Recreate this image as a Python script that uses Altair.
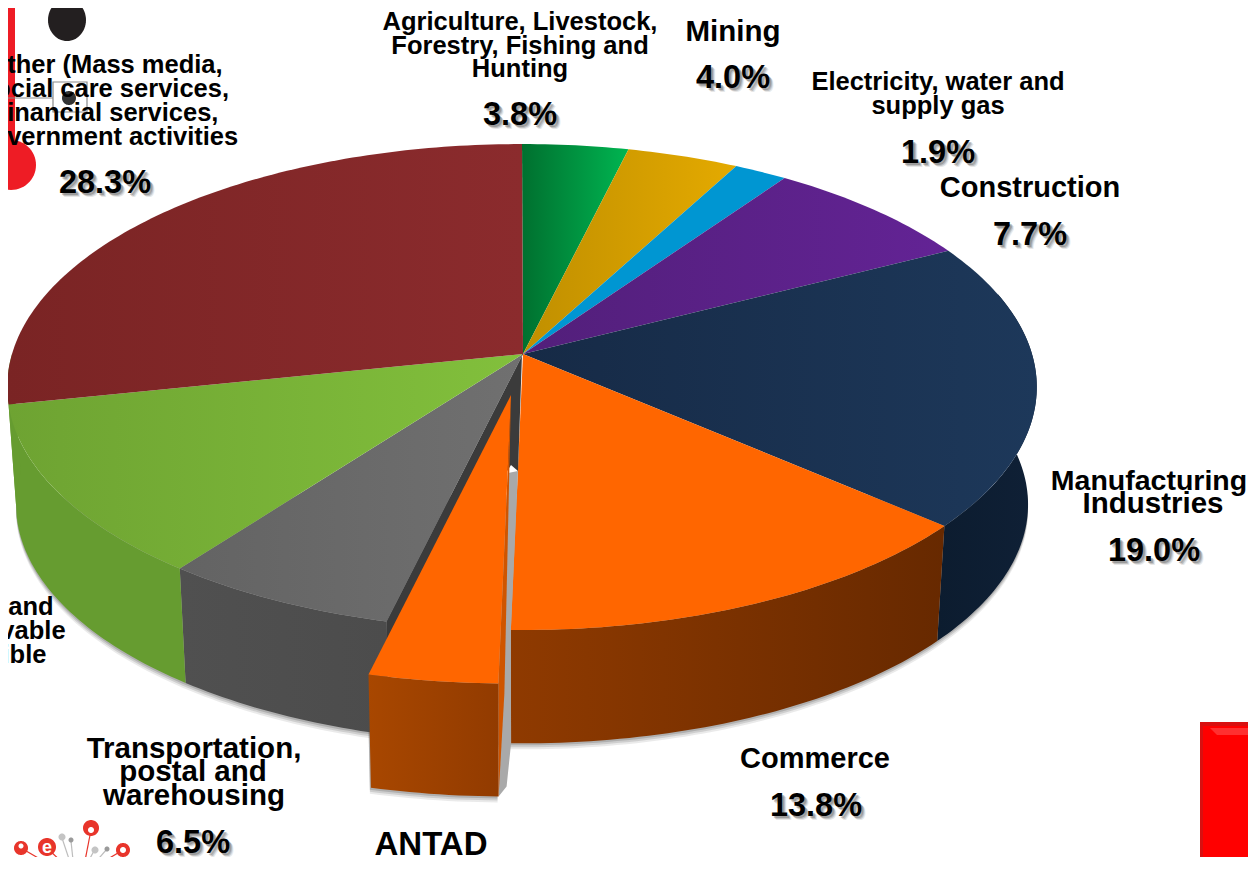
import math
import altair as alt

# ---- values ----
sectors = ["Agriculture", "Mining", "Electricity", "Construction", "Manufacturing",
           "Commerce", "ANTAD", "Transportation", "RealEstate", "Other"]
shares = [3.8, 4.0, 1.9, 7.7, 19.0, 13.9, 3.4, 6.5, 11.5, 28.3]

def grad(c0, c1, vertical=False):
    return alt.Gradient(gradient="linear",
                        stops=[alt.GradientStop(color=c0, offset=0), alt.GradientStop(color=c1, offset=1)],
                        x1=0, y1=0, x2=0 if vertical else 1, y2=1 if vertical else 0)

top_colors = [("#00702f", "#00b551"), ("#c08f00", "#e4aa00"), ("#0096d2", "#0096d2"),
              ("#521f7a", "#632395"), ("#162a46", "#1d385a"), ("#ff6600", "#ff6600"),
              ("#ff6600", "#ff6600"), ("#636363", "#707070"), ("#6ea332", "#82c03c"),
              ("#7a2424", "#8b2b2d")]
side_colors = {"Manufacturing": ("#0c1c2f", "#0f2036"), "Commerce": ("#8f3a00", "#672900"),
               "ANTAD": ("#a84700", "#923b00"), "Transportation": ("#505050", "#4c4c4c"),
               "RealEstate": ("#669c30", "#669c30"), "Other": ("#669c30", "#669c30")}

label_lines = [
    ("Agriculture, Livestock,", 520, 30, 25.5), ("Forestry, Fishing and", 520, 54, 25.5), ("Hunting", 520, 77, 25.5),
    ("Mining", 733, 41, 29.5),
    ("Electricity, water and", 938, 90, 25.5), ("supply gas", 938, 114, 25.5),
    ("Construction", 1030, 197, 29),
    ("Manufacturing", 1149, 490, 28.5), ("Industries", 1153, 513, 29.5),
    ("Commerce", 815, 768, 29),
    ("ANTAD", 431, 855, 33),
    ("Transportation,", 194, 758, 29.5), ("postal and", 193, 781, 29.5), ("warehousing", 194, 805, 29.5),
    ("Real estate and", -40, 615, 25.5), ("rental of movable", -40, 639, 25.5), ("and intangible", -40, 663, 25.5),
    ("assets", -40, 687, 25.5),
    ("Other (Mass media,", 105, 73, 25.5), ("social care services,", 105, 97, 25.5),
    ("Financial services,", 105, 121, 25.5), ("Government activities", 105, 145, 25.5),
]
percent_labels = [
    ("3.8%", 520, 125), ("4.0%", 733, 88), ("1.9%", 938, 163), ("7.7%", 1030, 245),
    ("19.0%", 1154, 561), ("13.8%", 816, 816), ("6.5%", 193, 853), ("11.5%", -43, 738), ("28.3%", 105, 193),
]

# ---- projected-disc geometry ----
CX, CY, DX, A, B, K = 523.0, 354.0, -1.0, 510.0, 238.5, 0.136
SIDE_SCALE, DEPTH = 0.983, 118.0

def rim(theta, ox=0.0, oy=0.0, s=1.0):
    t = math.radians(theta)
    w = 1 + K * math.cos(t)
    return (CX + DX + ox + s * A * math.sin(t) / w, CY + oy - s * B * math.cos(t) / w)

def rim_low(theta, ox=0.0, oy=0.0, s=1.0):
    x, y = rim(theta, ox, oy, s)
    return (CX + ox + (x - CX - ox) * SIDE_SCALE, CY + oy + (y - CY - oy) * SIDE_SCALE + DEPTH)

def arc_angles(a0, a1):
    n = max(2, int(abs(a1 - a0)) + 2)
    return [a0 + (a1 - a0) * i / (n - 1) for i in range(n)]

def wedge(a0, a1, ox=0.0, oy=0.0, s=1.0):
    return [(CX + ox, CY + oy)] + [rim(a, ox, oy, s) for a in arc_angles(a0, a1)]

def wall(a0, a1, ox=0.0, oy=0.0, s=1.0):
    ang = arc_angles(a0, a1)
    return [rim(a, ox, oy, s) for a in ang] + [rim_low(a, ox, oy, s) for a in reversed(ang)]

def ellipse(cx, cy, rx, ry):
    return [(cx + rx * math.cos(math.radians(i)), cy + ry * math.sin(math.radians(i))) for i in range(0, 360, 6)]

PROJ = alt.Projection(type="identity", scale=1, translate=[-8, -8])

def poly(points, fill, opacity=1.0, stroke=None, sw=0):
    ring = [[round(x, 2), round(y, 2)] for x, y in points]
    ring.append(ring[0])
    feature = {"type": "Feature", "properties": {}, "geometry": {"type": "Polygon", "coordinates": [ring]}}
    kw = dict(fill=fill, opacity=opacity)
    kw.update(dict(stroke=stroke, strokeWidth=sw) if stroke else dict(strokeWidth=0))
    return alt.Chart(alt.InlineData(values={"type": "FeatureCollection", "features": [feature]},
                                    format=alt.DataFormat(type="json", property="features"))
                     ).mark_geoshape(**kw).project(**PROJ.to_dict())

def path(points, color, width):
    vals = [{"lon": x, "lat": y, "o": i} for i, (x, y) in enumerate(points)]
    return alt.Chart(alt.Data(values=vals)).mark_line(color=color, strokeWidth=width).encode(
        longitude="lon:Q", latitude="lat:Q", order="o:Q").project(**PROJ.to_dict())

# slice angles from the values
edges = [0.0]
for v in shares:
    edges.append(edges[-1] + v * 3.6)
span = {n: (edges[i], edges[i + 1]) for i, n in enumerate(sectors)}
X_OX, X_OY, X_S = -12.0, 41.0, 1.045  # how far the ANTAD slice is pulled out

layers = []

# decorations cropped at the picture's edges
layers += [
    poly([(5, 0), (15, 0), (15, 150), (5, 150)], "#ee1c25"),
    poly(ellipse(11, 165, 25, 25), "#ee1c25"),
    poly(ellipse(67, 20, 19, 21), "#231f20"),
    poly(ellipse(69, 98, 7, 7), "#333333"),
    path([(0, 98), (53, 98), (53, 82), (87, 82), (87, 112), (53, 112), (53, 98)], "#8a8a8a", 1.2),
    poly([(1200, 722), (1256, 722), (1256, 869), (1200, 869)], "#ff0000"),
    poly([(1200, 722), (1256, 722), (1256, 726), (1203, 726), (1203, 869), (1200, 869)], "#d81010"),
    poly([(1210, 728), (1256, 728), (1256, 735), (1217, 735)], "#ff3030"),
    poly([(0, 861), (9, 861), (9, 866), (0, 866)], "#444444"),
]
logo_lines = [[(21, 848), (52, 866)], [(47, 848), (66, 866)], [(91, 830), (84, 866)], [(123, 850), (96, 866)],
              [(62, 838), (70, 862)], [(71, 841), (73, 860)], [(95, 849), (88, 862)], [(107, 849), (93, 865)]]
for i, seg in enumerate(logo_lines):
    layers.append(path(seg, "#e8352b" if i < 4 else "#bdbdbd", 1.2))
for cx, cy, r, col in [(21, 848, 7, "#e8352b"), (47, 847, 9, "#e8352b"), (91, 828, 8, "#e8352b"), (123, 850, 7, "#e8352b"),
                       (62, 837, 3.5, "#c4c4c4"), (71, 840, 2.5, "#9a9a9a"), (95, 850, 3.5, "#c4c4c4"), (107, 849, 2.5, "#9a9a9a"),
                       (21, 846, 2.5, "#ffffff"), (91, 830, 3, "#ffffff"), (123, 850, 3, "#ffffff")]:
    layers.append(poly(ellipse(cx, cy, r, r), col))
layers.append(poly(ellipse(78, 875, 13, 9), "#444444"))

# soft shadow below the disc
for off, op in [(6, 0.12), (4, 0.18), (2, 0.25)]:
    pts = [rim_low(a) for a in arc_angles(95, 265)]
    layers.append(poly([(x, y + off) for x, y in pts], "#555555", op))
for off, op in [(6, 0.12), (4, 0.18), (2, 0.25)]:
    pts = [rim_low(a, X_OX, X_OY, X_S) for a in arc_angles(span["ANTAD"][0], span["ANTAD"][1])]
    pts += [rim(a, X_OX, X_OY, X_S) for a in [span["ANTAD"][1], span["ANTAD"][0]]]
    layers.append(poly([(x - 1, y + off) for x, y in pts], "#555555", op))

# outer walls
for name in ["Manufacturing", "Commerce", "Transportation", "RealEstate"]:
    a0, a1 = span[name]
    if name == "Manufacturing":
        a0 = 75
    layers.append(poly(wall(a0, a1), grad(*side_colors[name])))
layers.append(poly(wall(span["Other"][0], 270), "#669c30"))

# top faces
for i, name in enumerate(sectors):
    if name == "ANTAD":
        continue
    a0, a1 = span[name]
    layers.append(poly(wedge(a0, a1), grad(*top_colors[i], vertical=False)))

# the opening left by the pulled-out slice
a0, a1 = span["ANTAD"]
tip = (CX + X_OX, CY + X_OY)
c0 = rim(a0, X_OX, X_OY, X_S)
l0 = rim_low(a0, X_OX, X_OY, X_S)
layers.append(poly([(CX, CY), rim(a1), (rim(a1)[0], rim(a1)[1] + 40), (tip[0], tip[1] + 70),
                    (tip[0] + 7, tip[1] + 76), (CX - 1, CY)], "#3b3b3b"))
layers.append(poly([(tip[0] - 3, tip[1] + 78), (tip[0] + 7, tip[1] + 76), rim(a0), rim_low(a0),
                    (l0[0] + 8, l0[1] - 10), (l0[0], l0[1]), (c0[0], c0[1])], "#a9a9a9"))
layers.append(poly([tip, c0, l0, (c0[0] + 6, c0[1] + 10)], "#cf5500"))
layers.append(poly(wall(a0, a1, X_OX, X_OY, X_S), grad(*side_colors["ANTAD"])))
layers.append(poly(wedge(a0, a1, X_OX, X_OY, X_S), "#ff6600"))

# texts
line_rows = [{"t": t, "lon": x, "lat": y, "fs": fs} for t, x, y, fs in label_lines]
pct_rows = [{"t": t, "lon": x, "lat": y} for t, x, y in percent_labels]
FONT = "Liberation Sans"
layers.append(alt.Chart(alt.Data(values=[{"t": "e", "lon": 47, "lat": 853}])).mark_text(
    font=FONT, fontWeight="bold", fontSize=18, color="#ffffff", align="center", baseline="alphabetic").encode(
    longitude="lon:Q", latitude="lat:Q", text="t:N").project(**PROJ.to_dict()))
layers.append(alt.Chart(alt.Data(values=line_rows)).mark_text(
    font=FONT, fontWeight="bold", color="#000000", align="center", baseline="alphabetic").encode(
    longitude="lon:Q", latitude="lat:Q", text="t:N",
    size=alt.Size("fs:Q", scale=None, legend=None)).project(**PROJ.to_dict()))
for d, op in [(4, 0.12), (3, 0.22), (2, 0.3)]:
    layers.append(alt.Chart(alt.Data(values=pct_rows)).mark_text(
        font=FONT, fontWeight="bold", fontSize=32.5, color="#444444", opacity=op, dx=d, dy=d,
        align="center", baseline="alphabetic").encode(
        longitude="lon:Q", latitude="lat:Q", text="t:N").project(**PROJ.to_dict()))
layers.append(alt.Chart(alt.Data(values=pct_rows)).mark_text(
    font=FONT, fontWeight="bold", fontSize=32.5, color="#000000", align="center", baseline="alphabetic").encode(
    longitude="lon:Q", latitude="lat:Q", text="t:N").project(**PROJ.to_dict()))

chart = alt.layer(*layers).properties(
    width=1240, height=849, padding=0, background="#ffffff",
    autosize=alt.AutoSizeParams(type="none"),
).configure_view(stroke=None)

chart.save("out.html", embed_options={"renderer": "svg", "actions": False})
